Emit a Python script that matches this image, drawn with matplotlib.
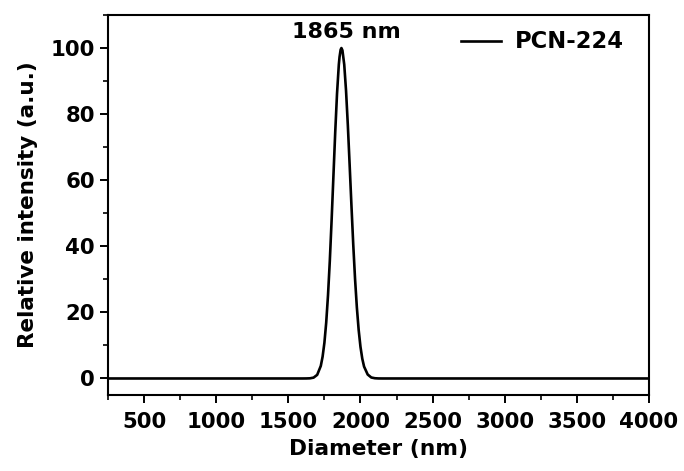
import matplotlib
matplotlib.use("Agg")
import matplotlib.pyplot as plt
from matplotlib.ticker import MultipleLocator

plt.rcParams['font.family'] = ['DejaVu Sans']
plt.rcParams['font.weight'] = 'bold'

# Data
diameter = [250, 1600, 1625, 1650, 1675, 1700, 1725, 1737.5, 1750, 1762.5, 1775,
            1787.5, 1800, 1812.5, 1825, 1837.5, 1850, 1855, 1862.5, 1868, 1875,
            1887.5, 1900, 1912.5, 1925, 1937.5, 1950, 1962.5, 1975, 1987.5, 2000,
            2012.5, 2025, 2050, 2075, 2100, 2125, 2150, 4000]
intensity = [0, 0, 0.01, 0.05, 0.26, 1.1, 3.8, 6.6, 10.8, 16.9, 25.2,
             35.6, 47.9, 61.2, 74.5, 86.2, 95.0, 97.3, 99.5, 100, 99.3,
             95.0, 87.1, 76.6, 64.6, 52.3, 40.5, 30.1, 21.5, 14.7, 9.6,
             6.0, 3.6, 1.2, 0.3, 0.07, 0.01, 0, 0]
series_label = "PCN-224"
peak_label = "1865 nm"
x_ticks = [500, 1000, 1500, 2000, 2500, 3000, 3500, 4000]
y_ticks = [0, 20, 40, 60, 80, 100]

fig = plt.figure(figsize=(6.84, 4.71), dpi=100)
ax = fig.add_axes([108/684, 1-395/471, (649-108)/684, (395-15)/471])

ax.plot(diameter, intensity, color='black', lw=1.9, label=series_label)
ax.set_xlim(250, 4000)
ax.set_ylim(-5, 110)
ax.set_xticks(x_ticks)
ax.set_yticks(y_ticks)
ax.xaxis.set_minor_locator(MultipleLocator(250))
ax.yaxis.set_minor_locator(MultipleLocator(10))
ax.tick_params(which='major', direction='out', length=6, width=1.4, labelsize=15.3, pad=3.5)
ax.tick_params(which='minor', direction='out', length=3.5, width=1.2)
ax.tick_params(axis='x', which='major', pad=6.5)
for s in ax.spines.values():
    s.set_linewidth(1.5)

ax.set_xlabel("Diameter (nm)", fontsize=15.7, fontweight='bold', labelpad=4.5)
ax.set_ylabel("Relative intensity (a.u.)", fontsize=15.5, fontweight='bold', labelpad=9)
ax.text(1900, 104.8, peak_label, ha='center', va='center', fontsize=16, fontweight='bold')
leg = ax.legend(loc='center left', bbox_to_anchor=(0.6525, (395-42)/380), frameon=False,
                fontsize=16.3, handlelength=1.75, handletextpad=0.65,
                borderpad=0, borderaxespad=0)

fig.savefig("out.png", dpi=100)
